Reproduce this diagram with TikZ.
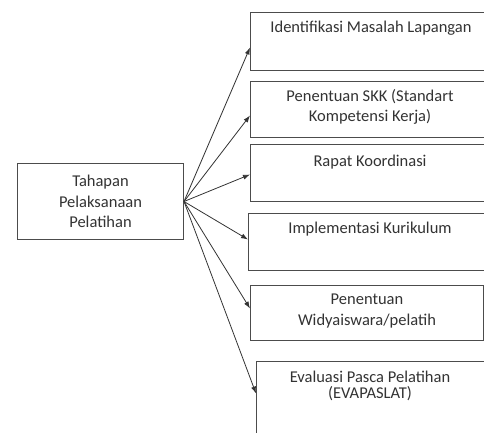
\documentclass[tikz,border=0pt]{standalone}
\usepackage{fontspec}
\setmainfont{Carlito}
\usetikzlibrary{arrows.meta}
\begin{document}
\begin{tikzpicture}[x=1pt,y=-1pt,
  boxs/.style={draw=black!70, line width=1pt, fill=white, inner sep=0pt, anchor=north west},
  lbl/.style={font=\fontsize{16.5}{20.5}\selectfont, text=black!80, align=center, inner sep=0pt},
  arr/.style={draw=black!80, line width=0.8pt, -{Latex[length=7pt,width=5pt]}}]
\useasboundingbox (0,0) rectangle (484,432);
\clip (0,0) rectangle (484,432);
% source box
\node[boxs, minimum width=166pt, minimum height=76pt, lbl] (src) at (17,163) {Tahapan\\Pelaksanaan\\Pelatihan};
% target boxes
\node[boxs, minimum width=250pt, minimum height=58pt] (b1) at (250,12) {};
\node[boxs, minimum width=250pt, minimum height=56pt] (b2) at (250,81) {};
\node[boxs, minimum width=250pt, minimum height=57pt] (b3) at (250,144) {};
\node[boxs, minimum width=252pt, minimum height=57pt] (b4) at (248,213) {};
\node[boxs, minimum width=233pt, minimum height=55pt] (b5) at (250,285) {};
\node[boxs, minimum width=250pt, minimum height=80pt] (b6) at (256,361) {};
% labels
\node[lbl] (t1) at (371,28) {Identifikasi Masalah Lapangan};
\node[lbl] (t2) at (370,107) {Penentuan SKK (Standart\\Kompetensi Kerja)};
\node[lbl] (t3) at (370,162) {Rapat Koordinasi};
\node[lbl] (t4) at (370,229) {Implementasi Kurikulum};
\node[lbl] (t5) at (367,311) {Penentuan\\Widyaiswara/pelatih};
\node[lbl, font=\fontsize{16.5}{16}\selectfont] (t6) at (370,386) {Evaluasi Pasca Pelatihan\\(EVAPASLAT)};
% connectors
\draw[arr] (src.east) -- ([yshift=-6pt]b1.west);
\draw[arr] (src.east) -- ([yshift=-6pt]b2.west);
\draw[arr] (src.east) -- ([yshift=-1.5pt]b3.west);
\draw[arr] (src.east) -- ([yshift=2.5pt]b4.west);
\draw[arr] (src.east) -- ([yshift=4.5pt]b5.west);
\draw[arr] (src.east) -- ([yshift=8pt]b6.west);
\end{tikzpicture}
\end{document}
